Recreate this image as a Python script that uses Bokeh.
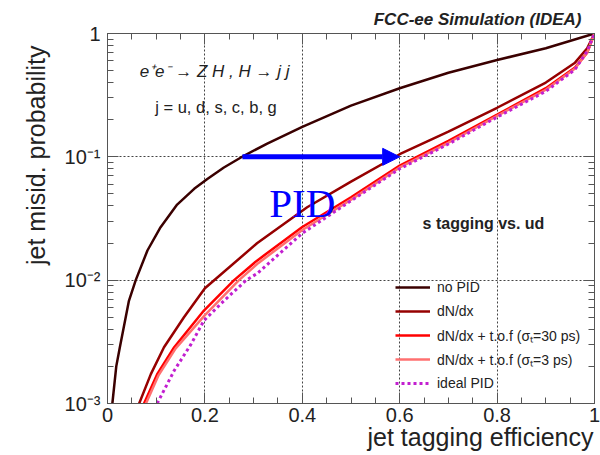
import numpy as np
from bokeh.plotting import figure
from bokeh.models import (Range1d, FixedTicker, Label, Legend, LegendItem, Arrow,
                          NormalHead, LinearAxis, LogAxis, Title)
from bokeh.embed import file_html
from bokeh.resources import INLINE

# ---------------- data ----------------
nopid_x = [0.010, 0.018, 0.025, 0.044, 0.058, 0.082, 0.109, 0.143, 0.178, 0.205,
           0.239, 0.280, 0.328, 0.400, 0.500, 0.600, 0.700, 0.800, 0.900, 1.000]
nopid_y = [1.0e-3, 2.0e-3, 2.8e-3, 6.8e-3, 1.0e-2, 1.74e-2, 2.69e-2, 4.1e-2, 5.5e-2, 6.6e-2,
           8.2e-2, 0.102, 0.128, 0.175, 0.26, 0.36, 0.48, 0.61, 0.76, 1.00]

dndx_x = [0.065, 0.089, 0.116, 0.157, 0.200, 0.307, 0.410, 0.500, 0.600,
          0.700, 0.800, 0.900, 0.960, 0.985, 1.000]
dndx_y = [1.0e-3, 1.73e-3, 2.86e-3, 5.0e-3, 8.6e-3, 1.99e-2, 3.9e-2, 0.063, 0.105,
          0.160, 0.25, 0.40, 0.58, 0.76, 1.00]

tof30_x = [0.075, 0.102, 0.137, 0.198, 0.260, 0.307, 0.400, 0.500, 0.600, 0.700,
           0.800, 0.900, 0.960, 0.985, 1.000]
tof30_y = [1.0e-3, 1.73e-3, 2.86e-3, 5.67e-3, 1.0e-2, 1.44e-2, 2.7e-2, 0.047, 0.085, 0.135,
           0.220, 0.36, 0.53, 0.70, 1.00]

tof3_x = [0.079, 0.105, 0.140, 0.200, 0.270, 0.310, 0.400, 0.500, 0.600, 0.700,
          0.800, 0.900, 0.960, 0.985, 1.000]
tof3_y = [1.0e-3, 1.7e-3, 2.8e-3, 5.2e-3, 1.0e-2, 1.38e-2, 2.55e-2, 0.045, 0.082, 0.130,
          0.215, 0.35, 0.52, 0.70, 1.00]

ideal_x = [0.102, 0.137, 0.171, 0.198, 0.239, 0.285, 0.307, 0.400, 0.500, 0.600,
           0.700, 0.800, 0.900, 0.960, 0.985, 1.000]
ideal_y = [1.0e-3, 1.85e-3, 3.0e-3, 4.7e-3, 6.8e-3, 1.0e-2, 1.13e-2, 2.4e-2, 0.044, 0.080,
           0.127, 0.210, 0.34, 0.51, 0.72, 1.00]

arrow_x = [0.277, 0.600]
arrow_y = 0.1

x_ticks = [0.0, 0.2, 0.4, 0.6, 0.8, 1.0]
x_tick_labels = ["0", "0.2", "0.4", "0.6", "0.8", "1"]
y_ticks = [1e-3, 1e-2, 1e-1, 1.0]
y_tick_labels = ["10\u207b\u00b3", "10\u207b\u00b2", "10\u207b\u00b9", "1"]

legend_labels = ["no PID", "dN/dx", "dN/dx + t.o.f (\u03c3\u209c=30 ps)",
                 "dN/dx + t.o.f (\u03c3\u209c=3 ps)", "ideal PID"]

# ---------------- figure ----------------
FONT = "Liberation Sans"
p = figure(width=600, height=455, y_axis_type="log",
           x_range=Range1d(0, 1), y_range=Range1d(1e-3, 1),
           output_backend="svg", toolbar_location=None,
           min_border_left=107, min_border_right=6, min_border_top=33, min_border_bottom=52)
p.background_fill_color = "white"
p.border_fill_color = "white"
p.outline_line_color = "#555555"
p.outline_line_width = 1

x_minor = [round(v, 2) for v in np.arange(0.05, 1.0, 0.05) if abs(v * 5 - round(v * 5)) > 1e-6]
y_minor = [m * 10.0 ** e for e in (-3, -2, -1) for m in range(2, 10)]

xa = p.xaxis[0]
xa.ticker = FixedTicker(ticks=x_ticks, minor_ticks=x_minor)
xa.major_label_overrides = {t: l for t, l in zip(x_ticks, x_tick_labels)}
ya = p.yaxis[0]
ya.ticker = FixedTicker(ticks=y_ticks, minor_ticks=y_minor)
ya.major_label_overrides = {t: l for t, l in zip(y_ticks, y_tick_labels)}

for ax in (xa, ya):
    ax.major_tick_out = 0
    ax.minor_tick_out = 0
    ax.major_tick_in = 11
    ax.minor_tick_in = 6
    ax.axis_line_color = "#555555"
    ax.major_tick_line_color = "#555555"
    ax.minor_tick_line_color = "#555555"
    ax.major_label_text_font = FONT
    ax.major_label_text_font_size = "20px"
    ax.major_label_text_color = "#222222"
xa.major_label_standoff = 4
ya.major_label_standoff = 7

top = LinearAxis(ticker=FixedTicker(ticks=x_ticks, minor_ticks=x_minor))
top.major_label_overrides = {t: "" for t in x_ticks}
right = LogAxis(ticker=FixedTicker(ticks=y_ticks, minor_ticks=y_minor))
right.major_label_overrides = {t: "" for t in y_ticks}
for ax in (top, right):
    ax.major_tick_out = 0
    ax.minor_tick_out = 0
    ax.major_tick_in = 11
    ax.minor_tick_in = 6
    ax.axis_line_color = "#555555"
    ax.major_tick_line_color = "#555555"
    ax.minor_tick_line_color = "#555555"
    ax.major_label_text_font_size = "8px"
    ax.major_label_standoff = 0
p.add_layout(top, "above")
p.add_layout(right, "right")

# titles used as axis labels / header (aligned to the frame's end like ROOT)
p.add_layout(Title(text="FCC-ee Simulation (IDEA)", align="right", offset=13, standoff=9,
                   text_font=FONT, text_font_size="17px", text_font_style="bold italic",
                   text_color="#222222"), "above")
p.add_layout(Title(text="jet tagging efficiency", align="right", offset=1, standoff=-7,
                   text_font=FONT, text_font_size="25px", text_font_style="normal",
                   text_color="#222222"), "below")
p.add_layout(Title(text="jet misid. probability", align="right", offset=12, standoff=24,
                   text_font=FONT, text_font_size="25px", text_font_style="normal",
                   text_color="#222222"), "left")

p.xgrid.ticker = FixedTicker(ticks=[0.2, 0.4, 0.6, 0.8])
p.ygrid.ticker = FixedTicker(ticks=[1e-2, 1e-1])
for g in (p.xgrid, p.ygrid):
    g.grid_line_color = "#444444"
    g.grid_line_dash = "2 2"
    g.grid_line_width = 1

# ---------------- curves ----------------
r1 = p.line(nopid_x, nopid_y, line_color="#3a0000", line_width=2.5)
r2 = p.line(dndx_x, dndx_y, line_color="#960000", line_width=2.5)
r3 = p.line(tof30_x, tof30_y, line_color="#ff0000", line_width=2.5)
r4 = p.line(tof3_x, tof3_y, line_color="#ff7070", line_width=2.5)
r5 = p.line(ideal_x, ideal_y, line_color="#c21fd0", line_width=3, line_dash="3 3")

legend = Legend(items=[LegendItem(label=l, renderers=[r]) for l, r in
                       zip(legend_labels, [r1, r2, r3, r4, r5])],
                location=(288, 10))
legend.background_fill_alpha = 0
legend.border_line_alpha = 0
legend.padding = 0
legend.margin = 0
legend.spacing = 4
legend.glyph_width = 35
legend.glyph_height = 20
legend.label_height = 20
legend.label_standoff = 7
legend.label_text_font = FONT
legend.label_text_font_size = "14px"
legend.label_text_color = "#222222"
p.add_layout(legend)

# ---------------- arrow ----------------
p.add_layout(Arrow(end=NormalHead(size=17, fill_color="#0000ff", line_color="#0000ff"),
                   x_start=arrow_x[0], y_start=arrow_y, x_end=arrow_x[1], y_end=arrow_y,
                   line_color="#0000ff", line_width=5))

# ---------------- texts ----------------
def lab(x, y, text, **kw):
    base = dict(text_font=FONT, text_color="#222222")
    base.update(kw)
    p.add_layout(Label(x=x, y=y, text=text, **base))

lab(0.066, 10 ** -0.31, "e\u207ae\u207b \u2192 Z H , H \u2192 j j", text_font_size="17px",
    text_font_style="italic", text_baseline="middle")
lab(0.098, 10 ** -0.595, "j = u, d, s, c, b, g", text_font_size="16.5px", text_baseline="middle")
lab(0.332, 10 ** -1.371, "PID", text_font="Liberation Serif", text_font_size="41px",
    text_color="#0000ff", text_baseline="alphabetic")
lab(0.647, 10 ** -1.54, "s tagging vs. ud", text_font_size="16px", text_font_style="bold",
    text_baseline="middle")

open("out.html", "w").write(file_html(p, INLINE))
